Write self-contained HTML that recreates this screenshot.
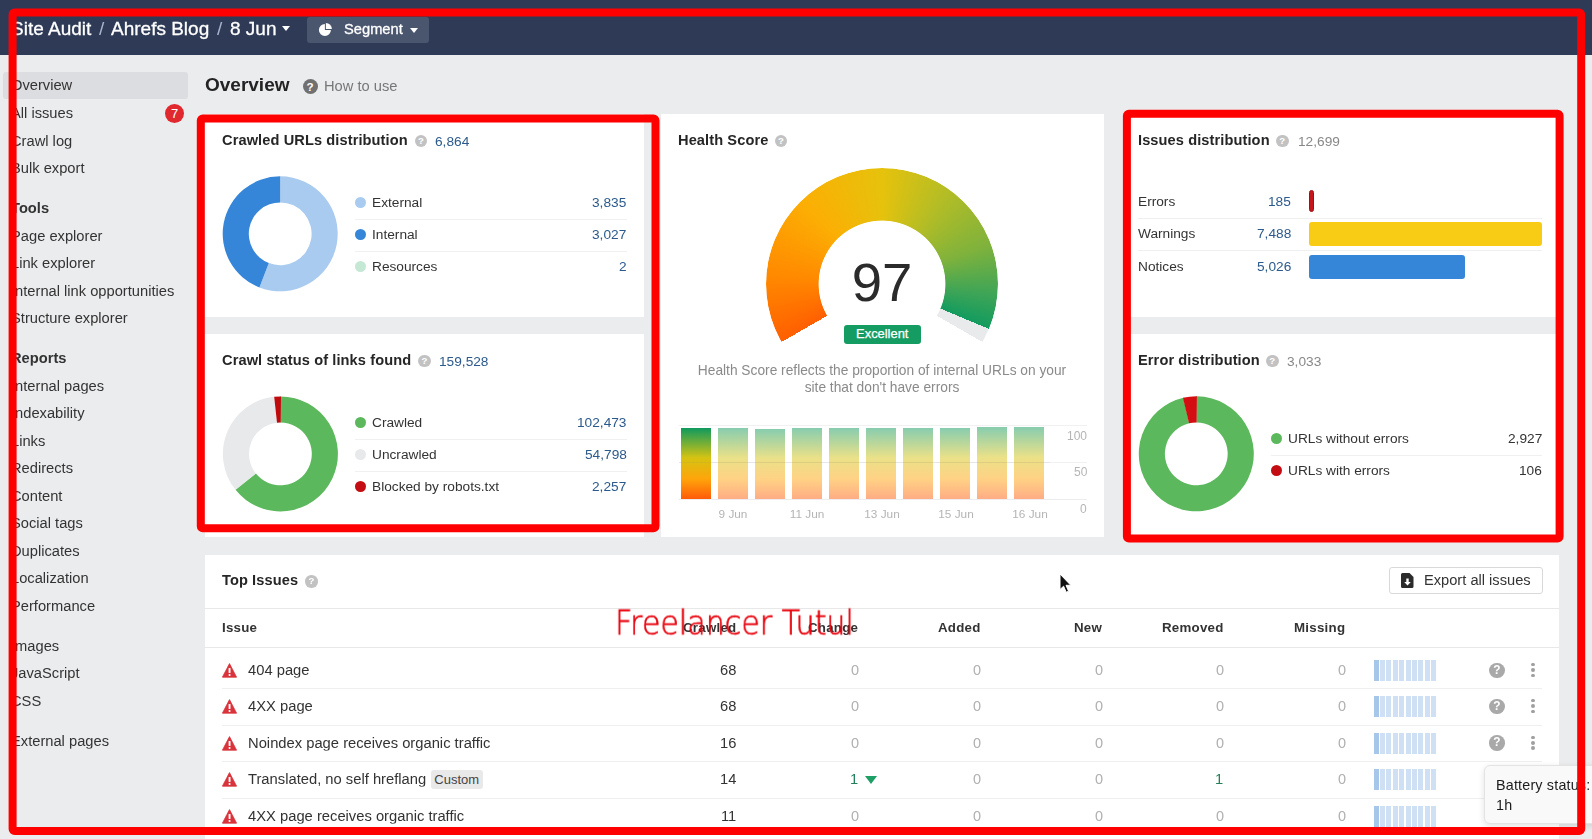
<!DOCTYPE html><html lang="en"><head><meta charset="utf-8"><title>Site Audit - Overview</title><style>
*{box-sizing:border-box;margin:0;padding:0}
html,body{width:1592px;height:839px;overflow:hidden;background:#ebecee;font-family:"Liberation Sans", Arial, sans-serif;color:#333;}
body{position:relative}
.abs{position:absolute}
.t{position:absolute;white-space:nowrap;line-height:1;will-change:transform}
.hdr{left:0;top:0;width:1592px;height:55px;background:#2f3b56}
.card{position:absolute;background:#fff}
.h{font-weight:bold;font-size:14.6px;color:#262626;letter-spacing:.1px}
.q{position:absolute;width:13px;height:13px;border-radius:50%;background:#c4c4c4;color:#fff;font-size:10px;font-weight:bold;text-align:center;line-height:13px}
.num{font-size:13.7px;color:#2c5a8c}
.gnum{font-size:13.7px;color:#888}
.lg{font-size:13.7px;color:#333}
.dot{position:absolute;width:11px;height:11px;border-radius:50%}
.hr{position:absolute;height:1px;background:#efefef}
.side{font-size:14.7px;color:#333}
.r{text-align:right}
.th{font-weight:bold;font-size:13.3px;color:#333;letter-spacing:.25px}
.z{font-size:14.5px;color:#b0b0b0}
.c{font-size:14.7px;color:#333}
.iss{font-size:14.75px;color:#333}
</style></head><body>
<div class="abs hdr"></div>
<div class="t " style="left:11.0px;top:27.6px;transform:translateY(-50%);font-size:19px;color:#fff;-webkit-text-stroke:.3px #fff">Site Audit</div>
<div class="t " style="left:98.5px;top:27.6px;transform:translateY(-50%);font-size:19px;color:#a9b4cc">/</div>
<div class="t " style="left:111.2px;top:27.6px;transform:translateY(-50%);font-size:19px;color:#fff;-webkit-text-stroke:.3px #fff">Ahrefs Blog</div>
<div class="t " style="left:216.7px;top:27.6px;transform:translateY(-50%);font-size:19px;color:#a9b4cc">/</div>
<div class="t " style="left:229.7px;top:27.6px;transform:translateY(-50%);font-size:19px;color:#fff;-webkit-text-stroke:.3px #fff">8 Jun</div>
<div class="abs" style="left:282px;top:26px;width:0;height:0;border-left:4px solid transparent;border-right:4px solid transparent;border-top:5px solid #fff"></div>
<div class="abs" style="left:307px;top:17px;width:122px;height:26px;background:#4a556e;border-radius:3px"></div>
<svg class="abs" style="left:318px;top:22px" width="15" height="15" viewBox="0 0 15 15"><path d="M6.9 1.9A6 6 0 1 0 12.9 7.9L6.9 7.9Z" fill="#fff"/><path d="M7.9 0.9A6 6 0 0 1 13.9 6.9L7.9 6.9Z" fill="#fff"/></svg>
<div class="t " style="left:343.7px;top:28.7px;transform:translateY(-50%);font-size:14.7px;color:#fff;-webkit-text-stroke:.3px #fff">Segment</div>
<div class="abs" style="left:410px;top:28px;width:0;height:0;border-left:4px solid transparent;border-right:4px solid transparent;border-top:5px solid #fff"></div>
<div class="abs" style="left:3px;top:72.3px;width:185px;height:26.8px;background:#dcdde0;border-radius:3px"></div>
<div class="t side" style="left:11.2px;top:85.0px;transform:translateY(-50%);">Overview</div>
<div class="t side" style="left:11.2px;top:113.0px;transform:translateY(-50%);">All issues</div>
<div class="t side" style="left:11.2px;top:140.5px;transform:translateY(-50%);">Crawl log</div>
<div class="t side" style="left:11.2px;top:168.0px;transform:translateY(-50%);">Bulk export</div>
<div class="t side" style="left:11.2px;top:208.0px;transform:translateY(-50%);font-weight:bold">Tools</div>
<div class="t side" style="left:11.2px;top:235.5px;transform:translateY(-50%);">Page explorer</div>
<div class="t side" style="left:11.2px;top:263.0px;transform:translateY(-50%);">Link explorer</div>
<div class="t side" style="left:11.2px;top:290.5px;transform:translateY(-50%);">Internal link opportunities</div>
<div class="t side" style="left:11.2px;top:318.0px;transform:translateY(-50%);">Structure explorer</div>
<div class="t side" style="left:11.2px;top:358.0px;transform:translateY(-50%);font-weight:bold">Reports</div>
<div class="t side" style="left:11.2px;top:385.5px;transform:translateY(-50%);">Internal pages</div>
<div class="t side" style="left:11.2px;top:413.0px;transform:translateY(-50%);">Indexability</div>
<div class="t side" style="left:11.2px;top:440.5px;transform:translateY(-50%);">Links</div>
<div class="t side" style="left:11.2px;top:468.0px;transform:translateY(-50%);">Redirects</div>
<div class="t side" style="left:11.2px;top:495.5px;transform:translateY(-50%);">Content</div>
<div class="t side" style="left:11.2px;top:523.0px;transform:translateY(-50%);">Social tags</div>
<div class="t side" style="left:11.2px;top:550.5px;transform:translateY(-50%);">Duplicates</div>
<div class="t side" style="left:11.2px;top:578.0px;transform:translateY(-50%);">Localization</div>
<div class="t side" style="left:11.2px;top:605.5px;transform:translateY(-50%);">Performance</div>
<div class="t side" style="left:11.2px;top:645.5px;transform:translateY(-50%);">Images</div>
<div class="t side" style="left:11.2px;top:673.0px;transform:translateY(-50%);">JavaScript</div>
<div class="t side" style="left:11.2px;top:700.5px;transform:translateY(-50%);">CSS</div>
<div class="t side" style="left:11.2px;top:741.0px;transform:translateY(-50%);">External pages</div>
<div class="abs" style="left:165px;top:103.5px;width:19px;height:19px;border-radius:50%;background:#e0282e;color:#fff;font-size:13px;text-align:center;line-height:19px">7</div>
<div class="t " style="left:205.3px;top:83.9px;transform:translateY(-50%);font-size:19px;font-weight:bold;color:#232323">Overview</div>
<div class="q" style="left:302.5px;top:78.5px;width:15px;height:15px;line-height:15px;font-size:11.6px;background:#707070">?</div>
<div class="t " style="left:324.0px;top:86.0px;transform:translateY(-50%);font-size:14.7px;color:#777">How to use</div>
<div class="card" style="left:205px;top:114px;width:439px;height:203px"></div>
<div class="card" style="left:205px;top:334px;width:439px;height:203px"></div>
<div class="card" style="left:660.5px;top:114px;width:443.5px;height:423px"></div>
<div class="card" style="left:1123px;top:114px;width:436px;height:203px"></div>
<div class="card" style="left:1123px;top:334px;width:436px;height:203px"></div>
<div class="card" style="left:205px;top:554.5px;width:1354px;height:290px"></div>
<div class="t h" style="left:222.0px;top:140.2px;transform:translateY(-50%);">Crawled URLs distribution</div>
<div class="q" style="left:414.6px;top:134.9px;width:12.5px;height:12.5px;line-height:12.5px;font-size:9.6px;background:#c2c2c2">?</div>
<div class="t num" style="left:435.0px;top:141.5px;transform:translateY(-50%);">6,864</div>
<div class="dot" style="left:355.1px;top:197.3px;background:#a9cbef"></div>
<div class="t lg" style="left:372.3px;top:202.8px;transform:translateY(-50%);">External</div>
<div class="t num" style="right:965.5px;top:202.8px;transform:translateY(-50%);">3,835</div>
<div class="dot" style="left:355.1px;top:229.4px;background:#3585d8"></div>
<div class="t lg" style="left:372.3px;top:234.9px;transform:translateY(-50%);">Internal</div>
<div class="t num" style="right:965.5px;top:234.9px;transform:translateY(-50%);">3,027</div>
<div class="dot" style="left:355.1px;top:261.4px;background:#c5e8d5"></div>
<div class="t lg" style="left:372.3px;top:266.9px;transform:translateY(-50%);">Resources</div>
<div class="t num" style="right:965.5px;top:266.9px;transform:translateY(-50%);">2</div>
<div class="hr" style="left:355.0px;top:218.5px;width:271.5px;background:#f0f0f0"></div>
<div class="hr" style="left:355.0px;top:250.5px;width:271.5px;background:#f0f0f0"></div>
<div class="t h" style="left:222.0px;top:360.1px;transform:translateY(-50%);">Crawl status of links found</div>
<div class="q" style="left:418.1px;top:354.9px;width:12.5px;height:12.5px;line-height:12.5px;font-size:9.6px;background:#c2c2c2">?</div>
<div class="t num" style="left:439.0px;top:361.5px;transform:translateY(-50%);">159,528</div>
<div class="dot" style="left:355.1px;top:417.3px;background:#5cb85c"></div>
<div class="t lg" style="left:372.3px;top:422.8px;transform:translateY(-50%);">Crawled</div>
<div class="t num" style="right:965.5px;top:422.8px;transform:translateY(-50%);">102,473</div>
<div class="dot" style="left:355.1px;top:449.4px;background:#e8e9eb"></div>
<div class="t lg" style="left:372.3px;top:454.9px;transform:translateY(-50%);">Uncrawled</div>
<div class="t num" style="right:965.5px;top:454.9px;transform:translateY(-50%);">54,798</div>
<div class="dot" style="left:355.1px;top:481.4px;background:#c40d12"></div>
<div class="t lg" style="left:372.3px;top:486.9px;transform:translateY(-50%);">Blocked by robots.txt</div>
<div class="t num" style="right:965.5px;top:486.9px;transform:translateY(-50%);">2,257</div>
<div class="hr" style="left:355.0px;top:438.5px;width:271.5px;background:#f0f0f0"></div>
<div class="hr" style="left:355.0px;top:470.5px;width:271.5px;background:#f0f0f0"></div>
<div class="t h" style="left:677.5px;top:140.2px;transform:translateY(-50%);">Health Score</div>
<div class="q" style="left:774.6px;top:134.9px;width:12.5px;height:12.5px;line-height:12.5px;font-size:9.6px;background:#c2c2c2">?</div>
<div class="abs" style="left:766.4px;top:167.8px;width:232px;height:232px;border-radius:50%;background:conic-gradient(from -120deg,#ff5f00 0deg,#ff8a00 35deg,#fcae04 75deg,#e6c20c 120deg,#b4bd25 155deg,#7fb23c 190deg,#3fa556 215deg,#129b5f 232.8deg,#e9eaec 232.8deg,#e9eaec 240deg,transparent 240deg);-webkit-mask:radial-gradient(circle,transparent 63px,#000 63.8px);mask:radial-gradient(circle,transparent 63px,#000 63.8px)"></div>
<div class="t " style="left:882.0px;top:282.6px;transform:translate(-50%,-50%);font-size:54.5px;color:#2b2b2b">97</div>
<div class="abs" style="left:844px;top:325.2px;width:76.5px;height:18.5px;background:#159c63;border-radius:3px;color:#fff;font-size:12.9px;-webkit-text-stroke:.25px #fff;text-align:center;line-height:18.5px">Excellent</div>
<div class="t " style="left:882.0px;top:371.2px;transform:translate(-50%,-50%);font-size:13.75px;color:#8a8a8a">Health Score reflects the proportion of internal URLs on your</div>
<div class="t " style="left:882.0px;top:388.4px;transform:translate(-50%,-50%);font-size:13.75px;color:#8a8a8a">site that don't have errors</div>
<div class="hr" style="left:679.0px;top:424.5px;width:408.0px;background:#f1f1f1"></div>
<div class="hr" style="left:679.0px;top:461.5px;width:408.0px;background:#f1f1f1"></div>
<div class="hr" style="left:679.0px;top:499.0px;width:408.0px;background:#ededf0"></div>
<div class="abs" style="left:681.4px;top:428px;width:29.4px;height:71.0px;opacity:1;background:linear-gradient(to bottom,#0f9a5e 0%,#d5c312 42%,#ffa40a 72%,#ff5a0a 100%)"></div>
<div class="abs" style="left:718.4px;top:428px;width:29.4px;height:71.0px;opacity:0.5;background:linear-gradient(to bottom,#0f9a5e 0%,#d5c312 42%,#ffa40a 72%,#ff5a0a 100%)"></div>
<div class="abs" style="left:755.4px;top:429px;width:29.4px;height:70.0px;opacity:0.5;background:linear-gradient(to bottom,#0f9a5e 0%,#d5c312 42%,#ffa40a 72%,#ff5a0a 100%)"></div>
<div class="abs" style="left:792.4px;top:428px;width:29.4px;height:71.0px;opacity:0.5;background:linear-gradient(to bottom,#0f9a5e 0%,#d5c312 42%,#ffa40a 72%,#ff5a0a 100%)"></div>
<div class="abs" style="left:829.4px;top:428px;width:29.4px;height:71.0px;opacity:0.5;background:linear-gradient(to bottom,#0f9a5e 0%,#d5c312 42%,#ffa40a 72%,#ff5a0a 100%)"></div>
<div class="abs" style="left:866.4px;top:428px;width:29.4px;height:71.0px;opacity:0.5;background:linear-gradient(to bottom,#0f9a5e 0%,#d5c312 42%,#ffa40a 72%,#ff5a0a 100%)"></div>
<div class="abs" style="left:903.4px;top:428px;width:29.4px;height:71.0px;opacity:0.5;background:linear-gradient(to bottom,#0f9a5e 0%,#d5c312 42%,#ffa40a 72%,#ff5a0a 100%)"></div>
<div class="abs" style="left:940.4px;top:428px;width:29.4px;height:71.0px;opacity:0.5;background:linear-gradient(to bottom,#0f9a5e 0%,#d5c312 42%,#ffa40a 72%,#ff5a0a 100%)"></div>
<div class="abs" style="left:977.4px;top:427px;width:29.4px;height:72.0px;opacity:0.5;background:linear-gradient(to bottom,#0f9a5e 0%,#d5c312 42%,#ffa40a 72%,#ff5a0a 100%)"></div>
<div class="abs" style="left:1014.4px;top:427px;width:29.4px;height:72.0px;opacity:0.5;background:linear-gradient(to bottom,#0f9a5e 0%,#d5c312 42%,#ffa40a 72%,#ff5a0a 100%)"></div>
<div class="hr" style="left:679.0px;top:461.5px;width:371.0px;background:rgba(120,120,120,.09)"></div>
<div class="t " style="right:505.0px;top:435.5px;transform:translateY(-50%);font-size:12px;color:#b5b5b5">100</div>
<div class="t " style="right:505.0px;top:471.5px;transform:translateY(-50%);font-size:12px;color:#b5b5b5">50</div>
<div class="t " style="right:505.0px;top:509.0px;transform:translateY(-50%);font-size:12px;color:#b5b5b5">0</div>
<div class="t " style="left:733.0px;top:514.6px;transform:translate(-50%,-50%);font-size:11.8px;color:#b5b5b5">9 Jun</div>
<div class="t " style="left:807.3px;top:514.6px;transform:translate(-50%,-50%);font-size:11.8px;color:#b5b5b5">11 Jun</div>
<div class="t " style="left:881.5px;top:514.6px;transform:translate(-50%,-50%);font-size:11.8px;color:#b5b5b5">13 Jun</div>
<div class="t " style="left:955.7px;top:514.6px;transform:translate(-50%,-50%);font-size:11.8px;color:#b5b5b5">15 Jun</div>
<div class="t " style="left:1029.6px;top:514.6px;transform:translate(-50%,-50%);font-size:11.8px;color:#b5b5b5">16 Jun</div>
<div class="t h" style="left:1138.0px;top:140.2px;transform:translateY(-50%);">Issues distribution</div>
<div class="q" style="left:1276.0px;top:134.9px;width:12.5px;height:12.5px;line-height:12.5px;font-size:9.6px;background:#c2c2c2">?</div>
<div class="t gnum" style="left:1297.5px;top:141.5px;transform:translateY(-50%);">12,699</div>
<div class="t lg" style="left:1138.0px;top:201.6px;transform:translateY(-50%);">Errors</div>
<div class="t num" style="right:301.0px;top:201.6px;transform:translateY(-50%);">185</div>
<div class="t lg" style="left:1138.0px;top:233.5px;transform:translateY(-50%);">Warnings</div>
<div class="t num" style="right:301.0px;top:233.5px;transform:translateY(-50%);">7,488</div>
<div class="t lg" style="left:1138.0px;top:266.5px;transform:translateY(-50%);">Notices</div>
<div class="t num" style="right:301.0px;top:266.5px;transform:translateY(-50%);">5,026</div>
<div class="hr" style="left:1138.0px;top:217.5px;width:404.0px;background:#f0f0f0"></div>
<div class="hr" style="left:1138.0px;top:249.5px;width:404.0px;background:#f0f0f0"></div>
<div class="abs" style="left:1308.5px;top:189.5px;width:5.5px;height:22.5px;background:#c4161c;border-radius:2.5px;border:1px solid #a50e14"></div>
<div class="abs" style="left:1308.5px;top:222px;width:233.5px;height:23.5px;background:#f8cc15;border-radius:3px"></div>
<div class="abs" style="left:1308.5px;top:255px;width:156.5px;height:23.5px;background:#3585d8;border-radius:3px"></div>
<div class="t h" style="left:1138.0px;top:360.1px;transform:translateY(-50%);">Error distribution</div>
<div class="q" style="left:1266.0px;top:354.9px;width:12.5px;height:12.5px;line-height:12.5px;font-size:9.6px;background:#c2c2c2">?</div>
<div class="t gnum" style="left:1287.0px;top:361.5px;transform:translateY(-50%);">3,033</div>
<div class="dot" style="left:1271.0px;top:433.0px;background:#5cb85c"></div>
<div class="t lg" style="left:1288.3px;top:438.5px;transform:translateY(-50%);">URLs without errors</div>
<div class="t lg" style="right:50.0px;top:438.5px;transform:translateY(-50%);">2,927</div>
<div class="dot" style="left:1271.0px;top:465.0px;background:#c40d12"></div>
<div class="t lg" style="left:1288.3px;top:470.5px;transform:translateY(-50%);">URLs with errors</div>
<div class="t lg" style="right:50.0px;top:470.5px;transform:translateY(-50%);">106</div>
<div class="hr" style="left:1271.0px;top:454.5px;width:271.0px;background:#f0f0f0"></div>
<svg class="abs" style="left:0;top:0" width="1592" height="839"><path d="M280.20 176.30A57.5 57.5 0 1 1 259.41 287.41L268.84 263.07A31.4 31.4 0 1 0 280.20 202.40Z" fill="#a9cbef"/>
<path d="M259.41 287.41A57.5 57.5 0 0 1 280.20 176.30L280.20 202.40A31.4 31.4 0 0 0 268.84 263.07Z" fill="#3585d8"/><path d="M280.40 396.40A57.5 57.5 0 1 1 235.53 489.85L255.89 473.53A31.4 31.4 0 1 0 280.40 422.50Z" fill="#5cb85c"/>
<path d="M235.53 489.85A57.5 57.5 0 0 1 274.39 396.71L277.12 422.67A31.4 31.4 0 0 0 255.89 473.53Z" fill="#e8e9eb"/>
<path d="M274.19 396.74A57.5 57.5 0 0 1 281.00 396.40L280.73 422.50A31.4 31.4 0 0 0 277.01 422.68Z" fill="#bf0a0e"/><path d="M1196.80 396.30A57.5 57.5 0 1 1 1183.37 397.77L1189.24 423.20A31.4 31.4 0 1 0 1196.57 422.40Z" fill="#5cb85c"/>
<path d="M1196.30 396.30A57.5 57.5 0 0 1 1196.90 396.30L1196.63 422.40A31.4 31.4 0 0 0 1196.30 422.40Z" fill="#5cb85c"/>
<path d="M1182.97 397.87A57.5 57.5 0 0 1 1196.90 396.30L1196.63 422.40A31.4 31.4 0 0 0 1189.02 423.25Z" fill="#d40d12"/></svg>
<div class="t h" style="left:222.0px;top:580.0px;transform:translateY(-50%);">Top Issues</div>
<div class="q" style="left:305.1px;top:575.0px;width:12.5px;height:12.5px;line-height:12.5px;font-size:9.6px;background:#c2c2c2">?</div>
<div class="hr" style="left:205.0px;top:607.8px;width:1354.0px;background:#e8e8e8"></div>
<div class="hr" style="left:205.0px;top:647.0px;width:1354.0px;background:#e8e8e8"></div>
<div class="abs" style="left:1389px;top:567.2px;width:153.5px;height:26.8px;border:1px solid #d9d9d9;border-radius:3px;background:#fff"></div>
<svg class="abs" style="left:1401.2px;top:573.2px" width="13" height="15" viewBox="0 0 13 15"><path d="M1.5 0H8.5L12.5 4V13.5A1.5 1.5 0 0 1 11 15H1.5A1.5 1.5 0 0 1 0 13.5V1.5A1.5 1.5 0 0 1 1.5 0Z" fill="#2b2b2b"/><path d="M5.3 5.5H7.7V9H9.8L6.5 12.4L3.2 9H5.3Z" fill="#fff"/></svg>
<div class="t " style="left:1424.0px;top:580.0px;transform:translateY(-50%);font-size:14.65px;color:#333">Export all issues</div>
<div class="t th" style="left:222.0px;top:628.0px;transform:translateY(-50%);">Issue</div>
<div class="t th" style="right:855.3px;top:628.0px;transform:translateY(-50%);">Crawled</div>
<div class="t th" style="right:733.7px;top:628.0px;transform:translateY(-50%);">Change</div>
<div class="t th" style="right:611.7px;top:628.0px;transform:translateY(-50%);">Added</div>
<div class="t th" style="right:490.0px;top:628.0px;transform:translateY(-50%);">New</div>
<div class="t th" style="right:368.5px;top:628.0px;transform:translateY(-50%);">Removed</div>
<div class="t th" style="right:246.8px;top:628.0px;transform:translateY(-50%);">Missing</div>
<svg class="abs" style="left:222px;top:662.9px" width="15" height="15" viewBox="0 0 15 15"><path d="M7.5 0.6L14.6 14.2H0.4Z" fill="#d9333b" stroke="#d9333b" stroke-width=".8" stroke-linejoin="round"/><rect x="6.6" y="5" width="1.9" height="5" rx=".6" fill="#fff"/><rect x="6.6" y="11" width="1.9" height="1.9" rx=".6" fill="#fff"/></svg>
<div class="t iss" style="left:247.5px;top:670.0px;transform:translateY(-50%);">404 page</div>
<div class="t c" style="right:855.3px;top:670.0px;transform:translateY(-50%);">68</div>
<div class="t z" style="right:733.1px;top:670.0px;transform:translateY(-50%);">0</div>
<div class="t z" style="right:611.1px;top:670.0px;transform:translateY(-50%);">0</div>
<div class="t z" style="right:489.4px;top:670.0px;transform:translateY(-50%);">0</div>
<div class="t z" style="right:367.9px;top:670.0px;transform:translateY(-50%);">0</div>
<div class="t z" style="right:246.2px;top:670.0px;transform:translateY(-50%);">0</div>
<div class="abs" style="left:1373.6px;top:659.8px;width:5.1px;height:21px;background:#a6c7ea"></div>
<div class="abs" style="left:1380.0px;top:659.8px;width:5.1px;height:21px;background:#cfe0f4"></div>
<div class="abs" style="left:1386.4px;top:659.8px;width:5.1px;height:21px;background:#cfe0f4"></div>
<div class="abs" style="left:1392.8px;top:659.8px;width:5.1px;height:21px;background:#cfe0f4"></div>
<div class="abs" style="left:1399.2px;top:659.8px;width:5.1px;height:21px;background:#cfe0f4"></div>
<div class="abs" style="left:1405.6px;top:659.8px;width:5.1px;height:21px;background:#cfe0f4"></div>
<div class="abs" style="left:1412.0px;top:659.8px;width:5.1px;height:21px;background:#cfe0f4"></div>
<div class="abs" style="left:1418.4px;top:659.8px;width:5.1px;height:21px;background:#cfe0f4"></div>
<div class="abs" style="left:1424.8px;top:659.8px;width:5.1px;height:21px;background:#cfe0f4"></div>
<div class="abs" style="left:1431.2px;top:659.8px;width:5.1px;height:21px;background:#cfe0f4"></div>
<div class="hr" style="left:222.0px;top:688.0px;width:1320.0px;background:#efefef"></div>
<div class="q" style="left:1489.2px;top:662.5px;width:15.5px;height:15.5px;line-height:15.5px;font-size:11.9px;background:#a9a9a9">?</div>
<div class="abs" style="left:1530.8px;top:662.7px;width:3.8px;height:3.8px;border-radius:50%;background:#a0a0a0"></div>
<div class="abs" style="left:1530.8px;top:668.1px;width:3.8px;height:3.8px;border-radius:50%;background:#a0a0a0"></div>
<div class="abs" style="left:1530.8px;top:673.5px;width:3.8px;height:3.8px;border-radius:50%;background:#a0a0a0"></div>
<svg class="abs" style="left:222px;top:698.9px" width="15" height="15" viewBox="0 0 15 15"><path d="M7.5 0.6L14.6 14.2H0.4Z" fill="#d9333b" stroke="#d9333b" stroke-width=".8" stroke-linejoin="round"/><rect x="6.6" y="5" width="1.9" height="5" rx=".6" fill="#fff"/><rect x="6.6" y="11" width="1.9" height="1.9" rx=".6" fill="#fff"/></svg>
<div class="t iss" style="left:247.5px;top:706.0px;transform:translateY(-50%);">4XX page</div>
<div class="t c" style="right:855.3px;top:706.0px;transform:translateY(-50%);">68</div>
<div class="t z" style="right:733.1px;top:706.0px;transform:translateY(-50%);">0</div>
<div class="t z" style="right:611.1px;top:706.0px;transform:translateY(-50%);">0</div>
<div class="t z" style="right:489.4px;top:706.0px;transform:translateY(-50%);">0</div>
<div class="t z" style="right:367.9px;top:706.0px;transform:translateY(-50%);">0</div>
<div class="t z" style="right:246.2px;top:706.0px;transform:translateY(-50%);">0</div>
<div class="abs" style="left:1373.6px;top:695.8px;width:5.1px;height:21px;background:#a6c7ea"></div>
<div class="abs" style="left:1380.0px;top:695.8px;width:5.1px;height:21px;background:#cfe0f4"></div>
<div class="abs" style="left:1386.4px;top:695.8px;width:5.1px;height:21px;background:#cfe0f4"></div>
<div class="abs" style="left:1392.8px;top:695.8px;width:5.1px;height:21px;background:#cfe0f4"></div>
<div class="abs" style="left:1399.2px;top:695.8px;width:5.1px;height:21px;background:#cfe0f4"></div>
<div class="abs" style="left:1405.6px;top:695.8px;width:5.1px;height:21px;background:#cfe0f4"></div>
<div class="abs" style="left:1412.0px;top:695.8px;width:5.1px;height:21px;background:#cfe0f4"></div>
<div class="abs" style="left:1418.4px;top:695.8px;width:5.1px;height:21px;background:#cfe0f4"></div>
<div class="abs" style="left:1424.8px;top:695.8px;width:5.1px;height:21px;background:#cfe0f4"></div>
<div class="abs" style="left:1431.2px;top:695.8px;width:5.1px;height:21px;background:#cfe0f4"></div>
<div class="hr" style="left:222.0px;top:724.6px;width:1320.0px;background:#efefef"></div>
<div class="q" style="left:1489.2px;top:698.5px;width:15.5px;height:15.5px;line-height:15.5px;font-size:11.9px;background:#a9a9a9">?</div>
<div class="abs" style="left:1530.8px;top:698.7px;width:3.8px;height:3.8px;border-radius:50%;background:#a0a0a0"></div>
<div class="abs" style="left:1530.8px;top:704.1px;width:3.8px;height:3.8px;border-radius:50%;background:#a0a0a0"></div>
<div class="abs" style="left:1530.8px;top:709.5px;width:3.8px;height:3.8px;border-radius:50%;background:#a0a0a0"></div>
<svg class="abs" style="left:222px;top:735.6999999999999px" width="15" height="15" viewBox="0 0 15 15"><path d="M7.5 0.6L14.6 14.2H0.4Z" fill="#d9333b" stroke="#d9333b" stroke-width=".8" stroke-linejoin="round"/><rect x="6.6" y="5" width="1.9" height="5" rx=".6" fill="#fff"/><rect x="6.6" y="11" width="1.9" height="1.9" rx=".6" fill="#fff"/></svg>
<div class="t iss" style="left:247.5px;top:742.8px;transform:translateY(-50%);">Noindex page receives organic traffic</div>
<div class="t c" style="right:855.3px;top:742.8px;transform:translateY(-50%);">16</div>
<div class="t z" style="right:733.1px;top:742.8px;transform:translateY(-50%);">0</div>
<div class="t z" style="right:611.1px;top:742.8px;transform:translateY(-50%);">0</div>
<div class="t z" style="right:489.4px;top:742.8px;transform:translateY(-50%);">0</div>
<div class="t z" style="right:367.9px;top:742.8px;transform:translateY(-50%);">0</div>
<div class="t z" style="right:246.2px;top:742.8px;transform:translateY(-50%);">0</div>
<div class="abs" style="left:1373.6px;top:732.6px;width:5.1px;height:21px;background:#a6c7ea"></div>
<div class="abs" style="left:1380.0px;top:732.6px;width:5.1px;height:21px;background:#cfe0f4"></div>
<div class="abs" style="left:1386.4px;top:732.6px;width:5.1px;height:21px;background:#cfe0f4"></div>
<div class="abs" style="left:1392.8px;top:732.6px;width:5.1px;height:21px;background:#cfe0f4"></div>
<div class="abs" style="left:1399.2px;top:732.6px;width:5.1px;height:21px;background:#cfe0f4"></div>
<div class="abs" style="left:1405.6px;top:732.6px;width:5.1px;height:21px;background:#cfe0f4"></div>
<div class="abs" style="left:1412.0px;top:732.6px;width:5.1px;height:21px;background:#cfe0f4"></div>
<div class="abs" style="left:1418.4px;top:732.6px;width:5.1px;height:21px;background:#cfe0f4"></div>
<div class="abs" style="left:1424.8px;top:732.6px;width:5.1px;height:21px;background:#cfe0f4"></div>
<div class="abs" style="left:1431.2px;top:732.6px;width:5.1px;height:21px;background:#cfe0f4"></div>
<div class="hr" style="left:222.0px;top:761.2px;width:1320.0px;background:#efefef"></div>
<div class="q" style="left:1489.2px;top:735.3px;width:15.5px;height:15.5px;line-height:15.5px;font-size:11.9px;background:#a9a9a9">?</div>
<div class="abs" style="left:1530.8px;top:735.5px;width:3.8px;height:3.8px;border-radius:50%;background:#a0a0a0"></div>
<div class="abs" style="left:1530.8px;top:740.9px;width:3.8px;height:3.8px;border-radius:50%;background:#a0a0a0"></div>
<div class="abs" style="left:1530.8px;top:746.3px;width:3.8px;height:3.8px;border-radius:50%;background:#a0a0a0"></div>
<svg class="abs" style="left:222px;top:772.1999999999999px" width="15" height="15" viewBox="0 0 15 15"><path d="M7.5 0.6L14.6 14.2H0.4Z" fill="#d9333b" stroke="#d9333b" stroke-width=".8" stroke-linejoin="round"/><rect x="6.6" y="5" width="1.9" height="5" rx=".6" fill="#fff"/><rect x="6.6" y="11" width="1.9" height="1.9" rx=".6" fill="#fff"/></svg>
<div class="t iss" style="left:247.5px;top:779.3px;transform:translateY(-50%);">Translated, no self hreflang</div>
<div class="t c" style="right:855.3px;top:779.3px;transform:translateY(-50%);">14</div>
<div class="t c" style="right:733.7px;top:779.3px;transform:translateY(-50%);color:#23805a">1</div>
<div class="abs" style="left:865.3px;top:776.1px;width:0;height:0;border-left:6.3px solid transparent;border-right:6.3px solid transparent;border-top:8px solid #1d9f66"></div>
<div class="t z" style="right:611.1px;top:779.3px;transform:translateY(-50%);">0</div>
<div class="t z" style="right:489.4px;top:779.3px;transform:translateY(-50%);">0</div>
<div class="t c" style="right:368.5px;top:779.3px;transform:translateY(-50%);color:#23805a">1</div>
<div class="t z" style="right:246.2px;top:779.3px;transform:translateY(-50%);">0</div>
<div class="abs" style="left:1373.6px;top:769.1px;width:5.1px;height:21px;background:#a6c7ea"></div>
<div class="abs" style="left:1380.0px;top:769.1px;width:5.1px;height:21px;background:#cfe0f4"></div>
<div class="abs" style="left:1386.4px;top:769.1px;width:5.1px;height:21px;background:#cfe0f4"></div>
<div class="abs" style="left:1392.8px;top:769.1px;width:5.1px;height:21px;background:#cfe0f4"></div>
<div class="abs" style="left:1399.2px;top:769.1px;width:5.1px;height:21px;background:#cfe0f4"></div>
<div class="abs" style="left:1405.6px;top:769.1px;width:5.1px;height:21px;background:#cfe0f4"></div>
<div class="abs" style="left:1412.0px;top:769.1px;width:5.1px;height:21px;background:#cfe0f4"></div>
<div class="abs" style="left:1418.4px;top:769.1px;width:5.1px;height:21px;background:#cfe0f4"></div>
<div class="abs" style="left:1424.8px;top:769.1px;width:5.1px;height:21px;background:#cfe0f4"></div>
<div class="abs" style="left:1431.2px;top:769.1px;width:5.1px;height:21px;background:#cfe0f4"></div>
<div class="hr" style="left:222.0px;top:797.9px;width:1320.0px;background:#efefef"></div>
<svg class="abs" style="left:222px;top:808.9px" width="15" height="15" viewBox="0 0 15 15"><path d="M7.5 0.6L14.6 14.2H0.4Z" fill="#d9333b" stroke="#d9333b" stroke-width=".8" stroke-linejoin="round"/><rect x="6.6" y="5" width="1.9" height="5" rx=".6" fill="#fff"/><rect x="6.6" y="11" width="1.9" height="1.9" rx=".6" fill="#fff"/></svg>
<div class="t iss" style="left:247.5px;top:816.0px;transform:translateY(-50%);">4XX page receives organic traffic</div>
<div class="t c" style="right:855.3px;top:816.0px;transform:translateY(-50%);">11</div>
<div class="t z" style="right:733.1px;top:816.0px;transform:translateY(-50%);">0</div>
<div class="t z" style="right:611.1px;top:816.0px;transform:translateY(-50%);">0</div>
<div class="t z" style="right:489.4px;top:816.0px;transform:translateY(-50%);">0</div>
<div class="t z" style="right:367.9px;top:816.0px;transform:translateY(-50%);">0</div>
<div class="t z" style="right:246.2px;top:816.0px;transform:translateY(-50%);">0</div>
<div class="abs" style="left:1373.6px;top:805.8px;width:5.1px;height:21px;background:#a6c7ea"></div>
<div class="abs" style="left:1380.0px;top:805.8px;width:5.1px;height:21px;background:#cfe0f4"></div>
<div class="abs" style="left:1386.4px;top:805.8px;width:5.1px;height:21px;background:#cfe0f4"></div>
<div class="abs" style="left:1392.8px;top:805.8px;width:5.1px;height:21px;background:#cfe0f4"></div>
<div class="abs" style="left:1399.2px;top:805.8px;width:5.1px;height:21px;background:#cfe0f4"></div>
<div class="abs" style="left:1405.6px;top:805.8px;width:5.1px;height:21px;background:#cfe0f4"></div>
<div class="abs" style="left:1412.0px;top:805.8px;width:5.1px;height:21px;background:#cfe0f4"></div>
<div class="abs" style="left:1418.4px;top:805.8px;width:5.1px;height:21px;background:#cfe0f4"></div>
<div class="abs" style="left:1424.8px;top:805.8px;width:5.1px;height:21px;background:#cfe0f4"></div>
<div class="abs" style="left:1431.2px;top:805.8px;width:5.1px;height:21px;background:#cfe0f4"></div>
<div class="abs" style="left:430.5px;top:770px;width:52.5px;height:19px;background:#e9e9e9;border-radius:3px;font-size:13px;color:#444;text-align:center;line-height:19px">Custom</div>
<div class="abs" style="left:1483.5px;top:765px;width:120px;height:58.6px;background:#f9f9f9;border:1px solid #e3e3e3;border-radius:6px;box-shadow:0 2px 6px rgba(0,0,0,.12)"></div>
<div class="t " style="left:1495.5px;top:785.0px;transform:translateY(-50%);font-size:14.3px;color:#1b1b1b;letter-spacing:.2px">Battery status:</div>
<div class="t " style="left:1495.5px;top:805.0px;transform:translateY(-50%);font-size:14.3px;color:#1b1b1b;letter-spacing:.2px">1h</div>
<div class="t " style="left:615.3px;top:622.7px;transform:translateY(-50%);font-size:33px;color:#e8000c;-webkit-text-stroke:.6px #e8000c;font-family:'DejaVu Sans','Liberation Sans',sans-serif;font-weight:200;transform-origin:0 50%;transform:translateY(-50%) scaleX(.912)">Freelancer Tutul</div>
<svg class="abs" style="left:1059px;top:573px" width="14" height="21" viewBox="0 0 14 21"><path d="M1 1V16.5L4.6 13.2L7.2 19.2L9.6 18.2L7 12.3H11.8Z" fill="#111" stroke="#fff" stroke-width="1" stroke-linejoin="round"/></svg>
<svg class="abs" style="left:0;top:0" width="1592" height="839" fill="none" stroke="#ff0000" stroke-width="8" stroke-linejoin="round">
<rect x="12.6" y="12.4" width="1568.6" height="818.6" rx="2"/>
<rect x="200.8" y="118.5" width="454.7" height="409.7" rx="2"/>
<rect x="1126.9" y="113.8" width="432.7" height="424.7" rx="2"/>
</svg>
</body></html>
